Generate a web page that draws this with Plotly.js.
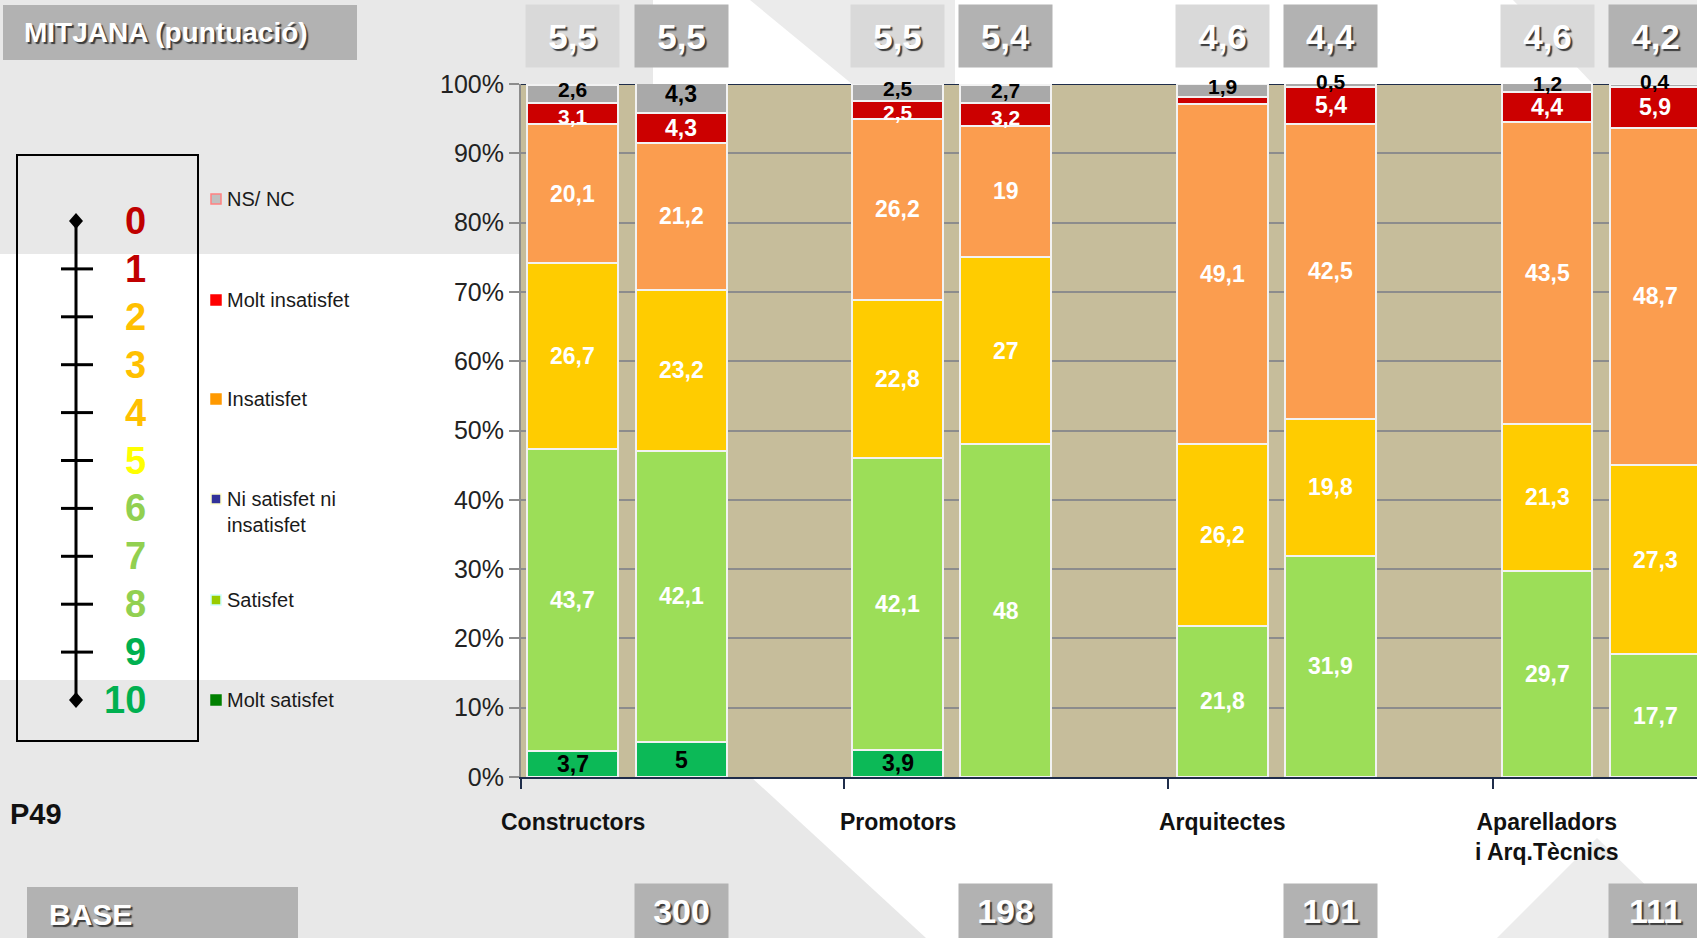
<!DOCTYPE html>
<html>
<head>
<meta charset="utf-8">
<script src="https://cdn.plot.ly/plotly-3.0.1.min.js"></script>
<style>
html,body{margin:0;padding:0;background:#e8e8e8;overflow:hidden}
#chart{width:1697px;height:938px}
</style>
</head>
<body>
<div id="chart"></div>
<script>
// ---------------- DATA ----------------
const groups = ['Constructors', 'Promotors', 'Arquitectes', 'Aparelladors<br>i Arq.Tècnics'];
const seriesNames = ['Molt satisfet', 'Satisfet', 'Ni satisfet ni insatisfet', 'Insatisfet', 'Molt insatisfet', 'NS/ NC'];
// two bars per group (8 bars)
const moltSatisfet   = [3.7, 5,    3.9,  null, null, null, null, null];
const satisfet       = [43.7, 42.1, 42.1, 48,   21.8, 31.9, 29.7, 17.7];
const niSatisfet     = [26.7, 23.2, 22.8, 27,   26.2, 19.8, 21.3, 27.3];
const insatisfet     = [20.1, 21.2, 26.2, 19,   49.1, 42.5, 43.5, 48.7];
const moltInsatisfet = [3.1,  4.3,  2.5,  3.2,  1,    5.4,  4.4,  5.9];
const nsnc           = [2.6,  4.3,  2.5,  2.7,  1.9,  0.5,  1.2,  0.4];
const mitjana = [5.5, 5.5, 5.5, 5.4, 4.6, 4.4, 4.6, 4.2];
const baseN = [300, 198, 101, 111];
const yTickVals = [0, 10, 20, 30, 40, 50, 60, 70, 80, 90, 100];
const scaleLabels = ['0','1','2','3','4','5','6','7','8','9','10'];
const legendLabels = ['NS/ NC', 'Molt insatisfet', 'Insatisfet', 'Ni satisfet ni<br>insatisfet', 'Satisfet', 'Molt satisfet'];
const unlabeled = [[4, 4]]; // [bar, series] labels hidden in the original

// ---------------- STYLE ----------------
const series = [moltSatisfet, satisfet, niSatisfet, insatisfet, moltInsatisfet, nsnc];
const barColors = ['#0cb957', '#9cde58', '#ffcc00', '#fb9d4f', '#cc0000', '#a9a9a9'];
const labelColors = ['#000000', '#ffffff', '#ffffff', '#ffffff', '#ffffff', '#000000'];
const scaleColors = ['#c00000','#c00000','#ffc000','#ffc000','#ffc000','#ffff00','#92d050','#92d050','#92d050','#00b050','#00b050'];
const legendFill = ['#c0c0c0', '#ff0000', '#ff9900', '#333399', '#99cc00', '#008000'];
const legendBorder = ['#ff8080', '#ff0000', '#ff9900', '#ffffcc', '#ccffff', '#008000'];
const FONT = 'Liberation Sans, Arial, sans-serif';

const W = 1697, H = 938;
const L = 521, R = 1697, T = 84, B = 777;
const PX = px => (px - L) / (R - L);
const PY = py => (B - py) / (B - T);
const barX = i => Math.floor(i / 2) * 3 + (i % 2);
const xs = mitjana.map((_, i) => barX(i));
const fmt = v => String(v).replace('.', ',');

// ---------------- TRACES ----------------
const traces = series.map((vals, s) => ({
  type: 'bar',
  name: seriesNames[s],
  x: xs,
  y: vals,
  width: 0.84,
  marker: { color: barColors[s], line: { color: '#f2f2f2', width: 2 } },
  hoverinfo: 'skip',
  showlegend: false
}));

// ---------------- ANNOTATIONS ----------------
const ann = [];
// segment labels
xs.forEach((x, i) => {
  let cum = 0;
  series.forEach((vals, s) => {
    const v = vals[i];
    if (v == null) return;
    const mid = cum + v / 2;
    cum += v;
    if (unlabeled.some(u => u[0] === i && u[1] === s)) return;
    const small = v < 4;
    let yshift = 0;
    if (s === 5) yshift = 4;
    else if (s === 4 && small) yshift = -3;
    ann.push({
      xref: 'x', yref: 'y', x: x, y: mid, yshift: yshift, text: fmt(v), showarrow: false,
      xanchor: 'center', yanchor: 'middle',
      font: { family: FONT, size: (small && s >= 4) ? 21 : 23, color: labelColors[s], weight: 'bold' }
    });
  });
});
// mean boxes
mitjana.forEach((m, i) => {
  ann.push({
    xref: 'x', yref: 'paper', x: xs[i], y: PY(36), text: fmt(m), showarrow: false,
    xanchor: 'center', yanchor: 'middle', align: 'center', valign: 'middle',
    bgcolor: (i % 2) ? '#b2b2b2' : '#d9d9d9', width: 93, height: 62, borderpad: 0,
    font: { family: FONT, size: 35, color: '#ffffff', weight: 'bold', shadow: '2px 2px 1px #3c3c3c' }
  });
});
// base boxes
baseN.forEach((n, g) => {
  ann.push({
    xref: 'x', yref: 'paper', x: barX(2 * g + 1), y: PY(911), text: String(n), showarrow: false,
    xanchor: 'center', yanchor: 'middle', align: 'center', valign: 'middle',
    bgcolor: '#b2b2b2', width: 93, height: 54, borderpad: 0,
    font: { family: FONT, size: 34, color: '#ffffff', weight: 'bold', shadow: '2px 2px 1px #3c3c3c' }
  });
});
// group labels
groups.forEach((gname, g) => {
  ann.push({
    xref: 'x', yref: 'paper', x: barX(2 * g), y: PY(807), text: gname, showarrow: false,
    xanchor: 'center', yanchor: 'top', align: 'center',
    font: { family: FONT, size: 23, color: '#111111', weight: 'bold' }
  });
});
// title boxes text
ann.push({ xref: 'paper', yref: 'paper', x: PX(22), y: PY(33), text: 'MITJANA (puntuació)', showarrow: false,
  xanchor: 'left', yanchor: 'middle',
  font: { family: FONT, size: 28, color: '#ffffff', weight: 'bold', shadow: '2px 2px 1px #3c3c3c' } });
ann.push({ xref: 'paper', yref: 'paper', x: PX(47), y: PY(914), text: 'BASE', showarrow: false,
  xanchor: 'left', yanchor: 'middle',
  font: { family: FONT, size: 30, color: '#ffffff', weight: 'bold', shadow: '2px 2px 1px #3c3c3c' } });
ann.push({ xref: 'paper', yref: 'paper', x: PX(8), y: PY(814), text: 'P49', showarrow: false,
  xanchor: 'left', yanchor: 'middle',
  font: { family: FONT, size: 29, color: '#111111', weight: 'bold' } });
// scale numbers
const scaleY = scaleLabels.map((_, k) => 221 + k * 47.9);
scaleLabels.forEach((t, k) => {
  ann.push({ xref: 'paper', yref: 'paper', x: PX(148), y: PY(scaleY[k]), text: t, showarrow: false,
    xanchor: 'right', yanchor: 'middle',
    font: { family: FONT, size: 38, color: scaleColors[k], weight: 'bold' } });
});
// legend
const legendY = [199, 300, 399, 499, 600, 700];
legendLabels.forEach((t, k) => {
  const twoLine = t.indexOf('<br>') >= 0;
  ann.push({ xref: 'paper', yref: 'paper', x: PX(225), y: PY(legendY[k] + (twoLine ? 13 : 0)), text: t, showarrow: false,
    xanchor: 'left', yanchor: 'middle', align: 'left',
    font: { family: FONT, size: 20, color: '#1a1a1a' } });
});

// ---------------- SHAPES ----------------
const shapes = [];
function rectPx(x0, y0, x1, y1, o) {
  return Object.assign({ type: 'rect', xref: 'paper', yref: 'paper',
    x0: PX(x0), x1: PX(x1), y0: PY(y1), y1: PY(y0) }, o);
}
function polyPx(pts, o) {
  const p = pts.map((q, i) => (i ? 'L' : 'M') + PX(q[0]).toFixed(5) + ',' + PY(q[1]).toFixed(5)).join(' ') + ' Z';
  return Object.assign({ type: 'path', xref: 'paper', yref: 'paper', path: p }, o);
}
function linePx(x0, y0, x1, y1, o) {
  return Object.assign({ type: 'line', xref: 'paper', yref: 'paper',
    x0: PX(x0), x1: PX(x1), y0: PY(y0), y1: PY(y1) }, o);
}
const bgBelow = { layer: 'below', line: { width: 0 } };
// background decorations (outside the plot area)
shapes.push(rectPx(0, 254, L, 680, Object.assign({ fillcolor: '#ffffff' }, bgBelow)));
shapes.push(rectPx(653, 0, W, T, Object.assign({ fillcolor: '#ffffff' }, bgBelow)));
shapes.push(polyPx([[750, 0], [955, 0], [955, T], [852, T]], Object.assign({ fillcolor: '#ebebeb' }, bgBelow)));
shapes.push(polyPx([[1513, 0], [W, 0], [W, T], [1593, T]], Object.assign({ fillcolor: '#ebebeb' }, bgBelow)));
shapes.push(polyPx([[751, B], [W, B], [W, H], [926, H]], Object.assign({ fillcolor: '#ffffff' }, bgBelow)));
shapes.push(polyPx([[1497, H], [1597, 838], [W, 935], [W, H]], Object.assign({ fillcolor: '#ececec' }, bgBelow)));
// top border line of plot
shapes.push({ type: 'line', xref: 'paper', yref: 'y', x0: 0, x1: 1, y0: 100, y1: 100, layer: 'below',
  line: { color: '#1f2d4a', width: 2 } });
// title boxes
shapes.push(rectPx(3, 5, 357, 60, { fillcolor: '#b2b2b2', line: { width: 0 } }));
shapes.push(rectPx(27, 887, 298, 945, { fillcolor: '#b2b2b2', line: { width: 0 } }));
// scale box
shapes.push(rectPx(17, 155, 198, 741, { fillcolor: 'rgba(0,0,0,0)', line: { color: '#000000', width: 2 } }));
shapes.push(linePx(76, scaleY[0], 76, scaleY[10], { line: { color: '#000000', width: 3 } }));
for (let k = 1; k <= 9; k++) {
  shapes.push(linePx(61, scaleY[k], 93, scaleY[k], { line: { color: '#000000', width: 3 } }));
}
[0, 10].forEach(k => {
  const cy = scaleY[k];
  shapes.push(polyPx([[76, cy - 8], [83, cy], [76, cy + 8], [69, cy]], { fillcolor: '#000000', line: { width: 0 } }));
});
// legend markers
legendY.forEach((cy, k) => {
  shapes.push(rectPx(211, cy - 5, 221, cy + 5, { fillcolor: legendFill[k], line: { color: legendBorder[k], width: 1.5 } }));
});

// ---------------- LAYOUT ----------------
const layout = {
  width: W, height: H,
  margin: { l: L, r: W - R, t: T, b: H - B, pad: 0 },
  paper_bgcolor: '#e8e8e8',
  plot_bgcolor: '#c6bd9b',
  barmode: 'stack',
  showlegend: false,
  hovermode: false,
  xaxis: {
    range: [-0.48, -0.48 + (R - L) / 108.23],
    tickvals: [-0.48, 2.5, 5.5, 8.5], ticktext: ['', '', '', ''],
    ticks: 'outside', ticklen: 10, tickwidth: 2, tickcolor: '#1f2d4a',
    showline: true, linecolor: '#1f2d4a', linewidth: 2,
    showgrid: false, zeroline: false, fixedrange: true
  },
  yaxis: {
    range: [0, 100],
    tickvals: yTickVals, ticktext: yTickVals.map(v => v + '%'),
    ticks: 'outside', ticklen: 10, tickwidth: 2, tickcolor: '#8c8c8c',
    showline: true, linecolor: '#8c8c8c', linewidth: 2,
    showgrid: true, gridcolor: '#8c8c8c', gridwidth: 2,
    zeroline: false, fixedrange: true,
    tickfont: { family: FONT, size: 25, color: '#222222' }
  },
  annotations: ann,
  shapes: shapes
};

Plotly.newPlot('chart', traces, layout, { displayModeBar: false, staticPlot: true });
</script>
</body>
</html>
